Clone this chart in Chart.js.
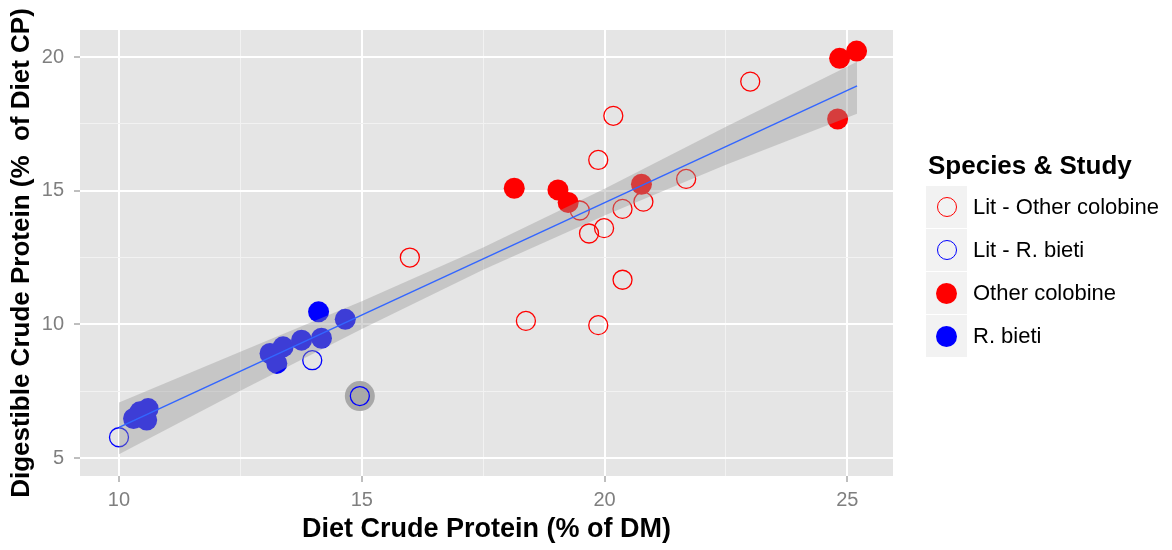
<!DOCTYPE html>
<html>
<head>
<meta charset="utf-8">
<script src="https://cdn.jsdelivr.net/npm/chart.js@4.4.0/dist/chart.umd.min.js"></script>
<style>
  body { margin: 0; background: #fff; font-family: "Liberation Sans", Arial, sans-serif; }
  #wrap { position: relative; width: 1172px; height: 550px; }
  #chart { position: absolute; left: 0; top: 0; }
  .lg-title { position: absolute; left: 928px; top: 152px; font-weight: bold; font-size: 26px; line-height: 26px; white-space: nowrap; color: #000; }
  .lg-key { position: absolute; left: 926px; width: 41px; height: 42px; background: #F2F2F2; }
  .lg-sym { position: absolute; border-radius: 50%; box-sizing: border-box; }
  .lg-text { position: absolute; left: 973px; font-size: 22px; line-height: 22px; white-space: nowrap; color: #000; }
</style>
</head>
<body>
<div id="wrap">
  <canvas id="chart" width="1172" height="550"></canvas>
  <div id="legend"></div>
</div>
<script>
// Lit - Other colobine (open red)
const litOtherX = [20.18, 19.87, 21.68, 19.49, 20.37, 20.80, 19.68, 19.99, 15.99, 20.37, 18.38, 19.87, 23.00];
const litOtherY = [17.80, 16.15, 15.44, 14.26, 14.32, 14.59, 13.40, 13.60, 12.50, 11.67, 10.13, 9.97, 19.08];

// Lit - R. bieti (open blue)
const litBietiX = [10.00, 13.98, 14.96];
const litBietiY = [5.78, 8.66, 7.32];

// Other colobine (filled red)
const otherX = [18.14, 19.04, 19.25, 20.76, 24.84, 25.19, 24.80];
const otherY = [15.09, 15.03, 14.56, 15.24, 19.95, 20.22, 17.68];

// R. bieti (filled blue)
const bietiX = [10.30, 10.43, 10.60, 10.57, 10.50, 13.11, 13.25, 13.38, 13.76, 14.17, 14.66, 14.11];
const bietiY = [6.48, 6.73, 6.85, 6.42, 6.60, 8.91, 8.54, 9.16, 9.41, 9.48, 10.19, 10.47];

// highlighted point
const markX = [14.96];
const markY = [7.32];

// fitted line and its confidence band
const fitX = [10, 25.2];
const fitY = [6.15, 18.92];
const bandX = [10, 12.5, 15, 17.5, 20, 22.5, 25.2];
const bandLow = [5.14, 7.52, 9.83, 12.04, 14.07, 15.97, 17.88];
const bandHigh = [7.08, 8.98, 10.87, 12.88, 15.07, 17.39, 19.82];

const xMajor = [10, 15, 20, 25];
const xMinor = [12.5, 17.5, 22.5];
const yMajor = [5, 10, 15, 20];
const yMinor = [7.5, 12.5, 17.5];

const legendLabels = ['Lit - Other colobine', 'Lit - R. bieti', 'Other colobine', 'R. bieti'];
const legendColors = ['#FF0000', '#0000FF', '#FF0000', '#0000FF'];
const legendFilled = [false, false, true, true];

function pts(xs, ys) {
    return xs.map((x, i) => ({ x: x, y: ys[i] }));
}

function tickList(major, minor) {
    return major.concat(minor).sort((a, b) => a - b).map(v => ({ value: v }));
}

// Panel background
const panelBg = {
    id: 'panelBg',
    beforeDraw(chart) {
        const { ctx, chartArea: a } = chart;
        ctx.save();
        ctx.fillStyle = '#E5E5E5';
        ctx.fillRect(a.left, a.top, a.right - a.left, a.bottom - a.top);
        ctx.restore();
    }
};

function axisGrid(major) {
    return {
        color: c => major.includes(c.tick.value) ? '#FFFFFF' : '#F2F2F2',
        lineWidth: c => major.includes(c.tick.value) ? 2 : 1,
        tickColor: c => major.includes(c.tick.value) ? '#7F7F7F' : 'rgba(0,0,0,0)',
        tickLength: 6,
        tickWidth: 1
    };
}

Chart.defaults.font.family = '"Liberation Sans", Arial, sans-serif';

const ctx = document.getElementById('chart').getContext('2d');
new Chart(ctx, {
    type: 'scatter',
    data: {
        datasets: [
            { type: 'line', data: pts(fitX, fitY), borderColor: '#3366FF', borderWidth: 1.5,
              pointRadius: 0, fill: false, tension: 0, order: 0 },
            { type: 'line', data: pts(bandX, bandLow), borderColor: 'rgba(0,0,0,0)', borderWidth: 0,
              pointRadius: 0, fill: false, tension: 0, order: 1 },
            { type: 'line', data: pts(bandX, bandHigh), borderColor: 'rgba(0,0,0,0)', borderWidth: 0,
              pointRadius: 0, fill: '-1', backgroundColor: 'rgba(153,153,153,0.4)', tension: 0, order: 1 },
            { label: 'Lit - Other colobine', data: pts(litOtherX, litOtherY), pointRadius: 9.5,
              borderColor: '#FF0000', borderWidth: 1.3, backgroundColor: 'rgba(0,0,0,0)', order: 2 },
            { label: 'Lit - R. bieti', data: pts(litBietiX, litBietiY), pointRadius: 9.5,
              borderColor: '#0000FF', borderWidth: 1.3, backgroundColor: 'rgba(0,0,0,0)', order: 3 },
            { label: 'Other colobine', data: pts(otherX, otherY), pointRadius: 10.5,
              borderWidth: 0, backgroundColor: '#FF0000', order: 4 },
            { label: 'R. bieti', data: pts(bietiX, bietiY), pointRadius: 10.5,
              borderWidth: 0, backgroundColor: '#0000FF', order: 5 },
            { data: pts(markX, markY), pointRadius: 15, borderWidth: 0,
              backgroundColor: '#A8A8A8', order: 6 }
        ]
    },
    options: {
        responsive: false,
        animation: false,
        events: [],
        devicePixelRatio: 1,
        layout: { padding: { top: 30, right: 279, left: 0, bottom: 0 } },
        plugins: { legend: { display: false }, tooltip: { enabled: false } },
        scales: {
            x: {
                type: 'linear', min: 9.197, max: 25.94,
                afterBuildTicks: s => { s.ticks = tickList(xMajor, xMinor); },
                afterFit: s => { s.height = 74; },
                ticks: {
                    callback: v => xMajor.includes(v) ? String(v) : '',
                    color: '#7F7F7F', font: { size: 20 }, padding: 6,
                    autoSkip: false, maxRotation: 0
                },
                grid: axisGrid(xMajor),
                border: { display: false },
                title: {
                    display: true, text: 'Diet Crude Protein (% of DM)', color: '#000',
                    font: { size: 27, weight: 'bold' }, padding: { top: 0, bottom: 4 }
                }
            },
            y: {
                type: 'linear', min: 4.33, max: 21.01,
                afterBuildTicks: s => { s.ticks = tickList(yMajor, yMinor); },
                afterFit: s => { s.width = 80; },
                ticks: {
                    callback: v => yMajor.includes(v) ? String(v) : '',
                    color: '#7F7F7F', font: { size: 20 }, padding: 10, autoSkip: false
                },
                grid: axisGrid(yMajor),
                border: { display: false },
                title: {
                    display: true, text: 'Digestible Crude Protein (%  of Diet CP)', color: '#000',
                    font: { size: 26, weight: 'bold' }, padding: { top: 6, bottom: 0 }
                }
            }
        }
    },
    plugins: [panelBg]
});

// Legend
const legend = document.getElementById('legend');
const title = document.createElement('div');
title.className = 'lg-title';
title.textContent = 'Species & Study';
legend.appendChild(title);
legendLabels.forEach((label, i) => {
    const cy = 206.5 + i * 43.3;
    const key = document.createElement('div');
    key.className = 'lg-key';
    key.style.top = (cy - 21) + 'px';
    const sym = document.createElement('div');
    sym.className = 'lg-sym';
    const d = legendFilled[i] ? 21 : 20;
    sym.style.width = d + 'px';
    sym.style.height = d + 'px';
    sym.style.left = (20.5 - d / 2) + 'px';
    sym.style.top = (21 - d / 2) + 'px';
    if (legendFilled[i]) sym.style.background = legendColors[i];
    else sym.style.border = '1.3px solid ' + legendColors[i];
    key.appendChild(sym);
    legend.appendChild(key);
    const txt = document.createElement('div');
    txt.className = 'lg-text';
    txt.style.top = (cy - 11) + 'px';
    txt.textContent = label;
    legend.appendChild(txt);
});
</script>
</body>
</html>
